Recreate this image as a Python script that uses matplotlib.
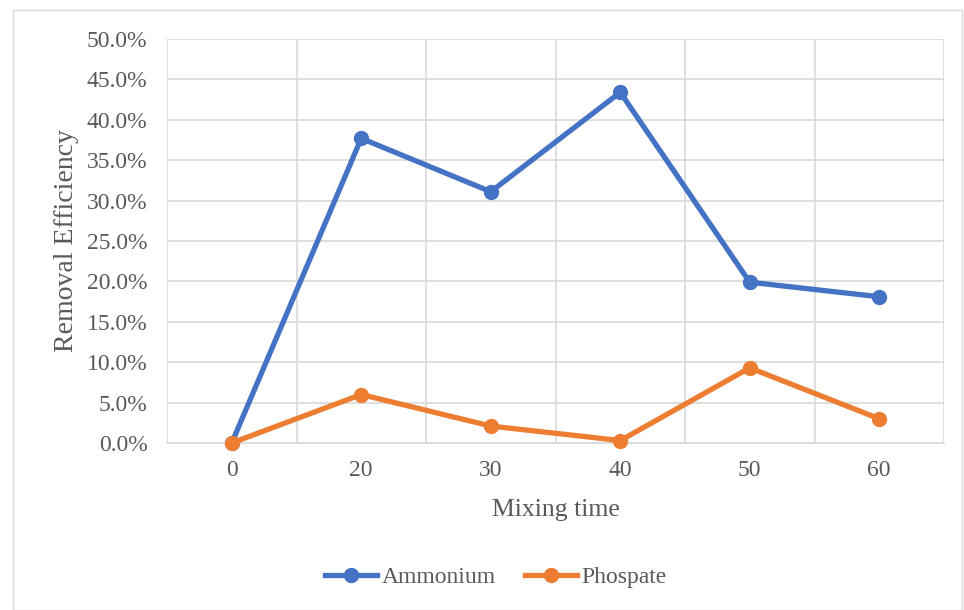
import matplotlib.pyplot as plt
from matplotlib.patches import Rectangle
from matplotlib.ticker import PercentFormatter

times = ["0", "20", "30", "40", "50", "60"]
ammonium = [0.0, 37.7, 31.1, 43.4, 19.9, 18.1]
phospate = [0.0, 6.0, 2.1, 0.3, 9.3, 3.0]

plt.rcParams['font.family'] = ['Liberation Serif', 'DejaVu Serif']

W, H = 964, 610
fig = plt.figure(figsize=(W / 100, H / 100), dpi=100)
ax = fig.add_axes([167 / W, 1 - 443 / H, (944 - 167) / W, (443 - 39) / H])

# outer chart border
fig.patches.append(Rectangle((13 / W, 0), (962 - 13) / W, 1 - 10 / H,
                             transform=fig.transFigure, fill=False,
                             edgecolor='#d9d9d9', linewidth=1))

x = range(len(times))
ax.plot(x, ammonium, color='#4472c4', lw=3.8, marker='o', ms=10, label='Ammonium',
        solid_joinstyle='round', zorder=3, clip_on=False)
ax.plot(x, phospate, color='#ed7d31', lw=3.8, marker='o', ms=10, label='Phospate',
        solid_joinstyle='round', zorder=3, clip_on=False)

ax.set_xlim(-0.5, 5.5)
ax.set_ylim(0, 50)
ax.set_yticks(range(0, 51, 5))
ax.yaxis.set_major_formatter(PercentFormatter(decimals=1))
ax.set_xticks(list(x))
ax.set_xticklabels(times)
ax.set_xticks([i + 0.5 for i in range(-1, 6)], minor=True)

ax.grid(True, axis='y', color='#d9d9d9', lw=1.2)
ax.grid(True, axis='x', which='minor', color='#d9d9d9', lw=1.2)
ax.grid(False, axis='x', which='major')
ax.set_axisbelow(True)
for s in ax.spines.values():
    s.set_visible(False)
ax.spines['bottom'].set_visible(True)
ax.spines['bottom'].set_color('#d9d9d9')
ax.spines['bottom'].set_linewidth(1.2)
ax.tick_params(which='both', length=0, labelsize=17, labelcolor='#595959')
ax.tick_params(axis='x', pad=12)
ax.tick_params(axis='y', pad=14)

ax.set_xlabel('Mixing time', fontsize=18.5, color='#595959', labelpad=13)
ax.set_ylabel('Removal Efficiency', fontsize=20, color='#595959', labelpad=6)

fig.legend(loc='center', bbox_to_anchor=(496 / W, 1 - 577 / H), ncol=2, frameon=False,
           fontsize=17, labelcolor='#595959', handlelength=2.2, columnspacing=1.2,
           handletextpad=0.2)

fig.savefig('out.png', dpi=100)
